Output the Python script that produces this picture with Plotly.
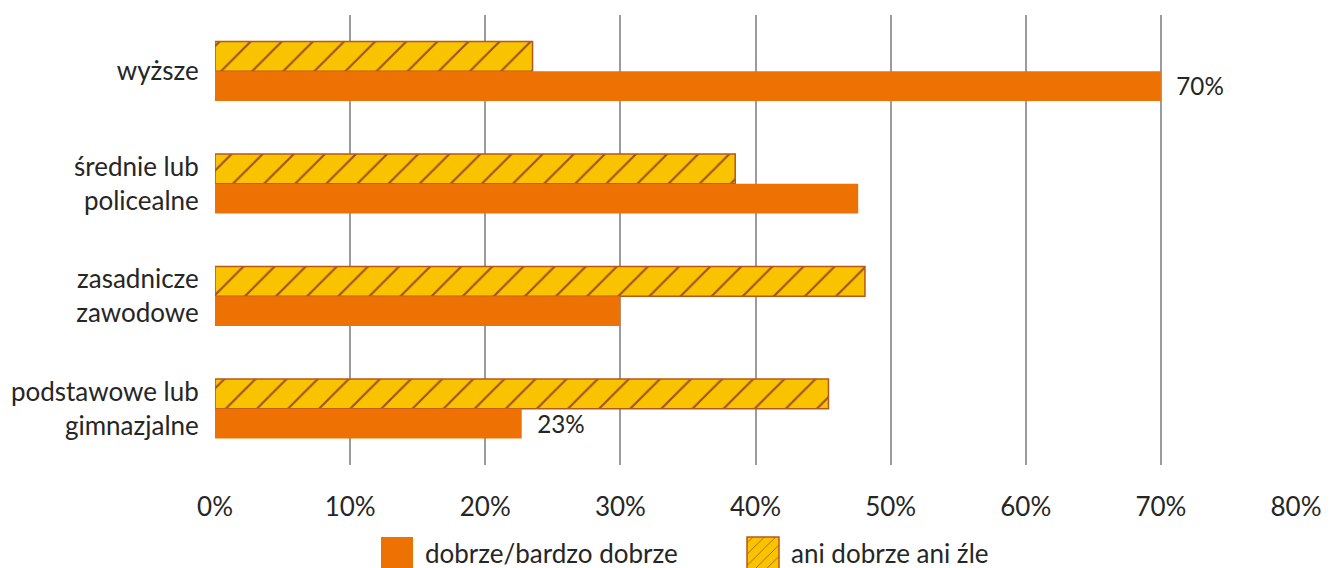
import plotly.graph_objects as go

categories = ["wyższe", "średnie lub<br>policealne", "zasadnicze<br>zawodowe", "podstawowe lub<br>gimnazjalne"]
good = [70.0, 47.6, 30.0, 22.7]
neutral = [23.5, 38.5, 48.1, 45.4]
good_labels = ["70%", "", "", "23%"]
tick_vals = [0, 10, 20, 30, 40, 50, 60, 70, 80]
tick_text = ["0%", "10%", "20%", "30%", "40%", "50%", "60%", "70%", "80%"]

FONT = "Lato"
TXT = "#262626"
FS = 26
NB = "\u00a0\u00a0"

fig = go.Figure()
fig.add_trace(go.Bar(
    y=categories, x=neutral, orientation="h", name="ani dobrze ani źle",
    marker=dict(color="#FAC300", line=dict(color="#B5581A", width=1.5),
                pattern=dict(shape="/", fgcolor="#A0521E", bgcolor="#FAC300",
                             size=22, solidity=0.1, fillmode="replace")),
    legendrank=2, hoverinfo="skip",
))
fig.add_trace(go.Bar(
    y=categories, x=good, orientation="h", name="dobrze/bardzo dobrze",
    marker=dict(color="#EE7203", line=dict(width=0)),
    text=[(NB + t) if t else "" for t in good_labels], textposition="outside", cliponaxis=False,
    textfont=dict(family=FONT, size=FS, color=TXT),
    legendrank=1, hoverinfo="skip",
))

fig.update_layout(
    width=1338, height=568,
    margin=dict(l=215, r=42, t=15, b=103, autoexpand=False),
    paper_bgcolor="white", plot_bgcolor="white",
    barmode="group", bargap=0.47, bargroupgap=0,
    font=dict(family=FONT, size=FS, color=TXT),
    showlegend=True,
    legend=dict(orientation="h", x=385 / 1338, xanchor="left", xref="container",
                y=1 - 553 / 568, yanchor="middle", yref="container",
                font=dict(family=FONT, size=FS, color=TXT),
                entrywidth=321, entrywidthmode="pixels", traceorder="normal"),
    xaxis=dict(range=[0, 80], tickvals=tick_vals, ticktext=tick_text,
               showgrid=True, gridcolor="#9B9B9B", gridwidth=2,
               zeroline=False, showline=False, ticks="outside", ticklen=19,
               tickcolor="rgba(0,0,0,0)", tickfont=dict(family=FONT, size=FS, color=TXT)),
    yaxis=dict(autorange="reversed", showgrid=False, zeroline=False,
               ticks="outside", ticklen=10, tickcolor="rgba(0,0,0,0)",
               tickfont=dict(family=FONT, size=FS, color=TXT)),
)

post = """
document.body.style.margin='0';
var gd=document.getElementById('{plot_id}');
gd.querySelectorAll('.legend .scrollbox').forEach(function(s){ s.removeAttribute('clip-path'); });
gd.querySelectorAll('.legendpoints path').forEach(function(p){
  p.setAttribute('d','M-24,16H8V-16H-24Z');
});
"""

fig.write_html("out.html", post_script=post, config={"displayModeBar": False})
